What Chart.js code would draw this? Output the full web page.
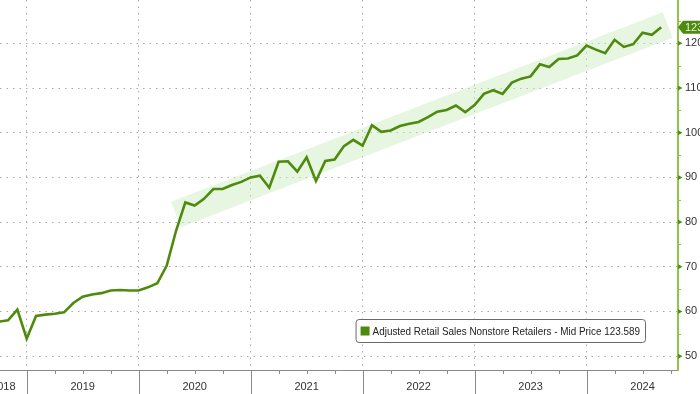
<!DOCTYPE html>
<html>
<head>
<meta charset="utf-8">
<script src="https://cdn.jsdelivr.net/npm/chart.js@4.4.1/dist/chart.umd.min.js"></script>
<style>
  body { margin: 0; background: #fff; }
  #wrap { width: 700px; height: 394px; }
</style>
</head>
<body>
<div id="wrap"><canvas id="salesChart" width="700" height="394"></canvas></div>
<script>
const SERIES_NAME = 'Adjusted Retail Sales Nonstore Retailers - Mid Price';
const LAST_PRICE = 123.589;

// monthly values, first point = Sep 2018
const firstYear = 2018;
const firstMonth = 9;
const salesValues = [
  57.7, 58.0, 60.4, 53.9,
  59.0, 59.3, 59.5, 59.8, 61.9, 63.3, 63.8, 64.1, 64.7, 64.8, 64.7, 64.7,
  65.4, 66.3, 70.2, 78.0, 84.4, 83.7, 85.2, 87.4, 87.4, 88.3, 89.0, 90.0,
  90.4, 87.7, 93.5, 93.6, 91.3, 94.5, 89.2, 93.7, 94.0, 97.0, 98.4, 97.1,
  101.7, 100.2, 100.5, 101.5, 102.0, 102.4, 103.5, 104.7, 105.1, 106.1, 104.6, 106.2,
  108.7, 109.5, 108.7, 111.2, 112.1, 112.6, 115.3, 114.7, 116.5, 116.6, 117.3, 119.5,
  118.6, 117.8, 120.8, 119.2, 119.8, 122.4, 121.9, LAST_PRICE
];
const yearLabels = ['2018', '2019', '2020', '2021', '2022', '2023', '2024'];
const yTickValues = [50, 60, 70, 80, 90, 100, 110, 120];

// trend channel: [month position, value] at both ends
const trendFrom = [16.0, 81.7];
const trendTo = [68.7, 124.1];

// month position: 0 = end of Dec 2018, 12 = end of Dec 2019 ...
const monthPos = (yr, m) => (yr - 2019) * 12 + m;
const points = salesValues.map((v, i) => ({ x: monthPos(firstYear, firstMonth) + i, y: v }));

const X_MIN = -2.86, X_MAX = 69.8;
const FONT = '"Liberation Sans", Arial, sans-serif';
const LINE_GREEN = '#4e8a0e';
const AXIS_GREEN = '#8fc64a';
const GRID = '#a8a8a8';

// x tick list: quarter marks + a label spot for the clipped first year
const yearTick = {};
yearLabels.forEach(lbl => {
  let c = monthPos(+lbl, 6);
  if (c < X_MIN) c = X_MIN + 0.36;
  yearTick[c.toFixed(2)] = lbl;
});

function noPad(scale) {
  scale.paddingLeft = scale.paddingRight = scale.paddingTop = scale.paddingBottom = 0;
}

const decor = {
  id: 'decor',
  beforeDatasetsDraw(chart) {
    const { ctx, scales: { x, y } } = chart;
    const x1 = x.getPixelForValue(trendFrom[0]), y1 = y.getPixelForValue(trendFrom[1]);
    const x2 = x.getPixelForValue(trendTo[0]), y2 = y.getPixelForValue(trendTo[1]);
    const len = Math.hypot(x2 - x1, y2 - y1);
    const half = 13.7;
    const nx = -(y2 - y1) / len * half, ny = (x2 - x1) / len * half;
    ctx.save();
    ctx.fillStyle = 'rgba(200, 236, 188, 0.45)';
    ctx.beginPath();
    ctx.moveTo(x1 + nx, y1 + ny);
    ctx.lineTo(x2 + nx, y2 + ny);
    ctx.lineTo(x2 - nx, y2 - ny);
    ctx.lineTo(x1 - nx, y1 - ny);
    ctx.closePath();
    ctx.fill();
    ctx.restore();
  },
  afterDraw(chart) {
    const { ctx, chartArea: area, scales: { x, y } } = chart;
    ctx.save();

    // bottom axis: solid year dividers and quarter ticks
    ctx.strokeStyle = '#8a8a8a';
    ctx.lineWidth = 1;
    x.ticks.forEach(t => {
      if (t.value % 3 !== 0) return;
      const px = Math.round(x.getPixelForValue(t.value)) + 0.5;
      const full = t.value % 12 === 0;
      ctx.beginPath();
      ctx.moveTo(px, area.bottom);
      ctx.lineTo(px, full ? chart.height : area.bottom + 4);
      ctx.stroke();
    });

    // right axis: minor and major tick marks
    const ax = area.right;
    yTickValues.forEach(v => {
      const py = y.getPixelForValue(v);
      ctx.fillStyle = '#4f8f12';
      ctx.beginPath();
      ctx.moveTo(ax, py - 2.5);
      ctx.lineTo(ax + 4.5, py);
      ctx.lineTo(ax, py + 2.5);
      ctx.closePath();
      ctx.fill();
      const mid = y.getPixelForValue(v + 5);
      if (mid > area.top) {
        ctx.strokeStyle = AXIS_GREEN;
        ctx.beginPath();
        ctx.moveTo(ax, Math.round(mid) + 0.5);
        ctx.lineTo(ax + 3, Math.round(mid) + 0.5);
        ctx.stroke();
      }
    });

    // last price tag
    const ty = y.getPixelForValue(LAST_PRICE);
    ctx.fillStyle = '#4f8a10';
    ctx.beginPath();
    ctx.moveTo(ax, ty);
    ctx.lineTo(ax + 5, ty - 6.5);
    ctx.lineTo(chart.width + 2, ty - 6.5);
    ctx.lineTo(chart.width + 2, ty + 6.5);
    ctx.lineTo(ax + 5, ty + 6.5);
    ctx.closePath();
    ctx.fill();
    ctx.fillStyle = '#e8f3dc';
    ctx.font = '11px ' + FONT;
    ctx.textBaseline = 'middle';
    ctx.fillText(String(Math.floor(LAST_PRICE)), ax + 7, ty + 0.5);

    // legend box (text slightly condensed like the terminal font)
    const ds = chart.data.datasets[0];
    const text = ds.label + ' ' + LAST_PRICE.toFixed(3);
    const squeeze = 0.9;
    ctx.font = '11px ' + FONT;
    const w = ctx.measureText(text).width * squeeze;
    const right = area.right - 33, top = 319, h = 23;
    const left = right - w - 22;
    ctx.fillStyle = '#ffffff';
    ctx.strokeStyle = '#6a6a6a';
    ctx.beginPath();
    ctx.roundRect(left + 0.5, top + 0.5, right - left, h, 3);
    ctx.fill();
    ctx.stroke();
    ctx.fillStyle = ds.borderColor;
    ctx.fillRect(left + 5, top + 7.5, 9, 9);
    ctx.fillStyle = '#222';
    ctx.translate(left + 17, top + h / 2 + 1);
    ctx.scale(squeeze, 1);
    ctx.fillText(text, 0, 0);

    ctx.restore();
  }
};

new Chart(document.getElementById('salesChart'), {
  type: 'line',
  data: {
    datasets: [{
      label: SERIES_NAME,
      data: points,
      borderColor: LINE_GREEN,
      borderWidth: 2.6,
      pointRadius: 0,
      tension: 0,
      fill: false
    }]
  },
  options: {
    responsive: false,
    animation: false,
    layout: { padding: 0 },
    plugins: { legend: { display: false }, tooltip: { enabled: false } },
    scales: {
      x: {
        type: 'linear',
        position: 'bottom',
        min: X_MIN,
        max: X_MAX,
        afterBuildTicks(scale) {
          const ticks = [];
          Object.keys(yearTick).forEach(k => { if (+k % 3 !== 0) ticks.push({ value: +k }); });
          for (let p = 0; p <= X_MAX; p += 3) ticks.push({ value: p });
          scale.ticks = ticks;
        },
        afterFit(scale) { scale.height = 24; noPad(scale); },
        grid: {
          drawTicks: false,
          color: c => (c.tick && c.tick.value % 12 === 0 ? GRID : 'rgba(0,0,0,0)'),
          lineWidth: 1
        },
        border: { display: true, color: '#8a8a8a', width: 1, dash: [1.5, 5] },
        ticks: {
          autoSkip: false,
          maxRotation: 0,
          padding: 10,
          color: '#333',
          font: { family: FONT, size: 11 },
          callback: v => yearTick[(+v).toFixed(2)] || ''
        }
      },
      y: {
        position: 'right',
        min: 46.9,
        max: 129.7,
        afterBuildTicks(scale) { scale.ticks = yTickValues.map(v => ({ value: v })); },
        afterFit(scale) { scale.width = 22; noPad(scale); },
        grid: { drawTicks: false, color: GRID, lineWidth: 1 },
        border: { display: true, color: AXIS_GREEN, width: 2, dash: [1.5, 5] },
        ticks: {
          padding: 7,
          color: '#333',
          font: { family: FONT, size: 11 },
          crossAlign: 'near'
        }
      }
    }
  },
  plugins: [decor]
});
</script>
</body>
</html>
